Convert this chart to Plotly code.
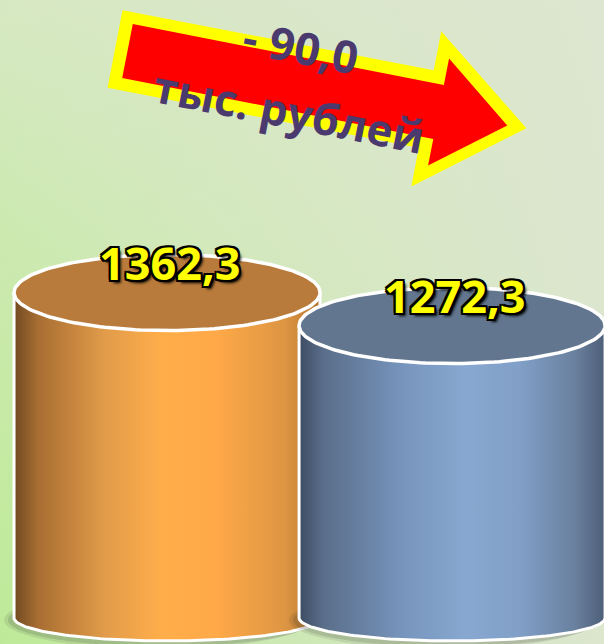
import numpy as np
import plotly.graph_objects as go

# ---------------- data ----------------
positions = [0, 1]
values = [1362.3, 1272.3]
value_labels = ["1362,3", "1272,3"]
change_lines = ["- 90,0", "тыс. рублей"]

# ---------------- styles ----------------
W, H = 604, 644
X_RANGE = [-0.586, 1.533]
Y_RANGE = [404.0, 2160.0]
BASE = 475.0
XPP = (X_RANGE[1] - X_RANGE[0]) / W
YPP = (Y_RANGE[1] - Y_RANGE[0]) / H
HALF_W = 153 * XPP
TOP_HH = 38 * YPP
BOT_HH = 23 * YPP

body_scales = [
    [[0, "#714A22"], [0.08, "#A86E32"], [0.3, "#E29C4A"], [0.48, "#FFAD4A"],
     [0.66, "#FFA948"], [0.88, "#DE9643"], [1, "#B5762F"]],
    [[0, "#3D4C63"], [0.08, "#5A6E8A"], [0.35, "#7896BE"], [0.55, "#88A8D1"],
     [0.72, "#819FC7"], [0.9, "#6A819F"], [1, "#4D5E77"]],
]
top_colors = ["#B97B3B", "#62778F"]

fig = go.Figure()

# background
bx = [X_RANGE[0], X_RANGE[1], X_RANGE[1], X_RANGE[0], X_RANGE[0]]
by = [Y_RANGE[0], Y_RANGE[0], Y_RANGE[1], Y_RANGE[1], Y_RANGE[0]]
fig.add_trace(go.Scatter(x=bx, y=by, mode="none", fill="toself", hoverinfo="skip",
                         fillgradient=dict(type="vertical",
                                           colorscale=[[0, "#BEEA98"], [0.5, "#C9EAAA"],
                                                       [1, "#D6E8C2"]])))
fig.add_trace(go.Scatter(x=bx, y=by, mode="none", fill="toself", hoverinfo="skip",
                         fillgradient=dict(type="horizontal",
                                           colorscale=[[0, "rgba(222,230,210,0)"],
                                                       [0.5, "rgba(222,230,210,0.5)"],
                                                       [1, "rgba(222,230,210,0.92)"]])))

t = np.linspace(0, 2 * np.pi, 181)
half = np.linspace(0, np.pi, 91)

for i, (p, v) in enumerate(zip(positions, values)):
    # shadow
    for k, alpha in [(10, 0.10), (6, 0.14)]:
        sx = p - k * XPP + HALF_W * np.cos(t)
        sy = BASE - 2 * YPP + (BOT_HH + k * 0.6 * YPP) * np.sin(t)
        fig.add_trace(go.Scatter(x=sx, y=sy, mode="none", fill="toself",
                                 fillcolor=f"rgba(40,40,40,{alpha})", hoverinfo="skip"))
    # body
    xb = [p - HALF_W, p + HALF_W, p + HALF_W] + list(p + HALF_W * np.cos(half)) + [p - HALF_W]
    yb = [v, v, BASE] + list(BASE - BOT_HH * np.sin(half)) + [v]
    fig.add_trace(go.Scatter(x=xb, y=yb, mode="lines", fill="toself",
                             line=dict(color="white", width=3),
                             fillgradient=dict(type="horizontal", colorscale=body_scales[i]),
                             hoverinfo="skip"))
    # top
    fig.add_trace(go.Scatter(x=p + HALF_W * np.cos(t), y=v + TOP_HH * np.sin(t),
                             mode="lines", fill="toself", fillcolor=top_colors[i],
                             line=dict(color="white", width=3.5), hoverinfo="skip"))

OUTLINE = ("-2px -2px 0 #000, 2px -2px 0 #000, -2px 2px 0 #000, 2px 2px 0 #000, "
           "0 2px 0 #000, 0 -2px 0 #000, 2px 0 0 #000, -2px 0 0 #000, 3px 3px 3px #000")
annotations = []
for p, v, lab in zip(positions, values, value_labels):
    annotations.append(dict(x=p, y=v, xref="x", yref="y", text=lab, showarrow=False,
                            xanchor="center", yanchor="middle", yshift=30, xshift=2,
                            font=dict(family="Open Sans", size=45, color="#FFFF00",
                                      weight="bold", shadow=OUTLINE)))


def arrow_path(tail, ang, length, sw, hw, hl):
    a = np.radians(ang)
    d = np.array([np.cos(a), np.sin(a)])
    n = np.array([np.sin(a), -np.cos(a)])
    T = np.array(tail, dtype=float)
    J = T + d * (length - hl)
    pts = [T + n * sw / 2, J + n * sw / 2, J + n * hw / 2, T + d * length,
           J - n * hw / 2, J - n * sw / 2, T - n * sw / 2]
    return "M " + " L ".join(f"{px / W:.5f},{1 - py / H:.5f}" for px, py in pts) + " Z"


shapes = [
    dict(type="path", xref="paper", yref="paper", fillcolor="#FFFF00", line=dict(width=0),
         path=arrow_path((115, 49), 10.9, 419, 79, 158, 102)),
    dict(type="path", xref="paper", yref="paper", fillcolor="#FF0000", line=dict(width=0),
         path=arrow_path((127.5, 51), 11.1, 387, 55, 109, 70)),
]

for txt, (cx, cy), sz in zip(change_lines, [(301, 47), (289, 111)], [45, 44]):
    annotations.append(dict(x=cx / W, y=1 - cy / H, xref="paper", yref="paper", text=txt,
                            showarrow=False, textangle=11, xanchor="center", yanchor="middle",
                            font=dict(family="Open Sans", size=sz, color="#4B3A6E",
                                      weight="bold")))

fig.update_layout(
    width=W, height=H, margin=dict(l=0, r=0, t=0, b=0),
    paper_bgcolor="#D6E8C4", plot_bgcolor="rgba(0,0,0,0)",
    showlegend=False, shapes=shapes, annotations=annotations,
    xaxis=dict(range=X_RANGE, visible=False, fixedrange=True),
    yaxis=dict(range=Y_RANGE, visible=False, fixedrange=True),
)
fig.write_html("out.html", config={"displayModeBar": False},
               post_script="document.body.style.margin='0';document.body.style.overflow='hidden';")
